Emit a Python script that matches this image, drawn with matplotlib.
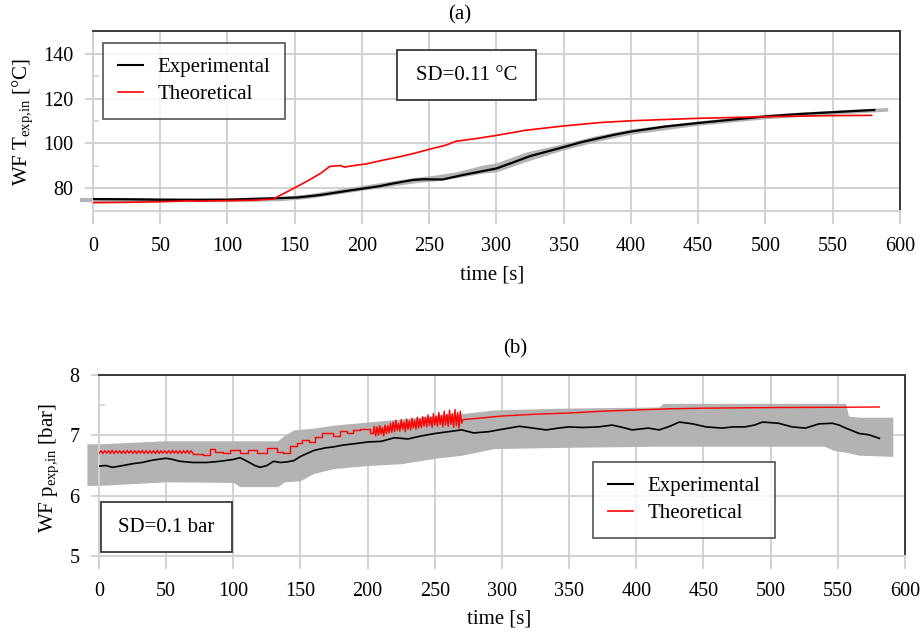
import matplotlib
matplotlib.use("Agg")
import matplotlib.pyplot as plt
from matplotlib.lines import Line2D
from matplotlib.patches import Rectangle

plt.rcParams['font.family'] = ['Liberation Serif', 'DejaVu Serif']
plt.rcParams['mathtext.fontset'] = 'custom'
plt.rcParams['mathtext.rm'] = 'Liberation Serif'
plt.rcParams['mathtext.it'] = 'Liberation Serif:italic'

# ---------------- data: panel (a) temperature ----------------
t_exp_a = [0, 25, 50, 75, 100, 131, 152, 169, 193, 213, 221, 238, 246, 260, 275, 300, 312,
           325, 350, 362, 375, 387, 400, 425, 450, 475, 500, 525, 550, 565, 581]
T_exp_a = [75.3, 75.2, 75.0, 74.9, 75.0, 75.6, 76.0, 77.1, 79.3, 81.0, 82.0, 83.8, 84.1, 84.0,
           86.0, 88.9, 91.5, 94.4, 98.4, 100.4, 102.2, 103.8, 105.3, 107.5, 109.1, 110.6, 112.0,
           113.1, 113.9, 114.4, 114.9]

t_th_a = [0, 20, 50, 70, 80, 100, 120, 134, 140, 150, 160, 170, 176, 184, 187, 195, 203, 215,
          228, 240, 250, 262, 266, 270, 285, 300, 322, 350, 377, 400, 450, 500, 550, 579]
T_th_a = [73.7, 73.8, 74.1, 74.5, 74.4, 74.6, 74.8, 75.3, 77.2, 80.3, 83.5, 87.0, 89.8, 90.2,
          89.5, 90.3, 90.9, 92.5, 94.1, 95.8, 97.4, 99.2, 100.1, 101.0, 102.2, 103.6, 105.9,
          107.8, 109.3, 110.1, 111.2, 111.9, 112.4, 112.5]

t_band_a = [-10, 0, 100, 140, 160, 200, 240, 255, 270, 290, 300, 322, 350, 375, 400, 450, 500, 550, 591]
upper_a = [76.0, 76.0, 75.9, 76.4, 77.6, 81.4, 85.0, 86.0, 87.4, 90.4, 91.4, 96.2, 100.0, 103.6,
           106.5, 110.1, 113.0, 114.8, 116.0]
lower_a = [74.2, 74.2, 74.1, 74.6, 75.6, 79.2, 82.6, 83.4, 84.8, 86.8, 87.4, 92.0, 97.2, 101.0,
           104.1, 108.1, 111.0, 113.0, 114.4]

# ---------------- data: panel (b) pressure ----------------
t_exp_b = [0, 5, 10, 18, 25, 32, 40, 50, 55, 60, 70, 80, 90, 100, 105, 112, 116, 120, 125, 130,
           135, 140, 145, 150, 155, 160, 168, 175, 182, 190, 200, 210, 220, 230, 240, 250, 260,
           270, 279, 290, 300, 313, 323, 333, 342, 350, 360, 372, 382, 390, 397, 409, 417, 425,
           432, 442, 452, 464, 472, 481, 488, 494, 506, 516, 526, 536, 546, 551, 556, 566, 573, 581]
p_exp_b = [6.49, 6.50, 6.47, 6.50, 6.53, 6.55, 6.59, 6.62, 6.60, 6.57, 6.55, 6.55, 6.57, 6.60,
           6.63, 6.55, 6.50, 6.47, 6.50, 6.57, 6.55, 6.56, 6.58, 6.65, 6.70, 6.75, 6.79, 6.81,
           6.84, 6.86, 6.89, 6.90, 6.96, 6.94, 6.99, 7.03, 7.06, 7.09, 7.04, 7.06, 7.10, 7.15,
           7.12, 7.09, 7.12, 7.14, 7.13, 7.14, 7.17, 7.13, 7.09, 7.12, 7.09, 7.15, 7.22, 7.19,
           7.14, 7.12, 7.14, 7.14, 7.17, 7.22, 7.20, 7.14, 7.12, 7.19, 7.20, 7.17, 7.12, 7.03,
           7.01, 6.95]

t_band_b = [-9, 0, 50, 100, 105, 133, 138, 145, 150, 160, 175, 200, 225, 250, 270, 294, 343,
            417, 420, 540, 547, 556, 558, 566, 581, 591]
upper_b = [6.86, 6.86, 6.91, 6.91, 6.91, 6.91, 7.00, 7.09, 7.10, 7.12, 7.17, 7.22, 7.27, 7.33,
           7.36, 7.42, 7.45, 7.47, 7.53, 7.53, 7.53, 7.53, 7.32, 7.30, 7.30, 7.30]
lower_b = [6.17, 6.17, 6.23, 6.22, 6.15, 6.15, 6.23, 6.24, 6.25, 6.37, 6.45, 6.50, 6.53, 6.62,
           6.67, 6.78, 6.80, 6.82, 6.82, 6.82, 6.75, 6.72, 6.71, 6.67, 6.66, 6.65]

# theoretical pressure: oscillating start, stepped middle, oscillating then smooth end
t_th_b1 = [0.0, 1.4, 2.8, 4.2, 5.6, 7.0, 8.4, 9.8, 11.2, 12.6, 14.0, 15.4, 16.8, 18.2, 19.6,
           21.0, 22.4, 23.8, 25.2, 26.6, 28.0, 29.4, 30.8, 32.2, 33.6, 35.0, 36.4, 37.8, 39.2,
           40.6, 42.0, 43.4, 44.8, 46.2, 47.6, 49.0, 50.4, 51.8, 53.2, 54.6, 56.0, 57.4, 58.8,
           60.2, 61.6, 63.0, 64.4, 65.8, 67.2, 68.6, 70.0]
p_th_b1 = [6.70, 6.745, 6.70, 6.745, 6.705, 6.745, 6.70, 6.75, 6.70, 6.745, 6.705, 6.745, 6.70,
           6.745, 6.70, 6.75, 6.705, 6.745, 6.70, 6.745, 6.70, 6.745, 6.705, 6.75, 6.70, 6.745,
           6.70, 6.745, 6.705, 6.745, 6.70, 6.75, 6.70, 6.745, 6.705, 6.745, 6.70, 6.745, 6.70,
           6.75, 6.705, 6.745, 6.70, 6.745, 6.70, 6.745, 6.705, 6.75, 6.70, 6.745, 6.70]

t_th_b2 = [70.0, 77.7, 82.7, 86.4, 92.6, 97.5, 105.0, 111.2, 117.4, 124.9, 132.3, 137.3, 142.2,
           147.2, 151.0, 156.0, 161.0, 166.0, 174.5, 179.5, 184.4, 189.4, 194.3, 201.8, 204.0]
p_th_b2 = [6.69, 6.67, 6.78, 6.73, 6.70, 6.765, 6.71, 6.765, 6.70, 6.79, 6.73, 6.71, 6.82,
           6.87, 6.93, 6.89, 6.98, 7.04, 6.99, 7.08, 7.04, 7.09, 7.11, 7.04, 7.04]

t_th_b3 = [204, 205, 206, 207, 208, 209, 210, 211, 212, 213, 214, 215, 216, 217, 218, 219, 220,
           221, 222, 223, 224, 225, 226, 227, 228, 229, 230, 231, 232, 233, 234, 235, 236, 237,
           238, 239, 240, 241, 242, 243, 244, 245, 246, 247, 248, 249, 250, 251, 252, 253, 254,
           255, 256, 257, 258, 259, 260, 261, 262, 263, 264, 265, 266, 267, 268, 269, 270, 271,
           281, 300, 325, 350, 375, 400, 425, 450, 500, 550, 581]
p_th_b3 = [7.03, 7.15, 6.99, 7.14, 7.00, 7.16, 7.02, 7.13, 6.99, 7.17, 7.03, 7.16, 7.04, 7.20,
           7.05, 7.22, 7.06, 7.25, 7.08, 7.20, 7.07, 7.26, 7.10, 7.22, 7.06, 7.27, 7.10, 7.24,
           7.09, 7.28, 7.12, 7.25, 7.10, 7.30, 7.12, 7.27, 7.13, 7.31, 7.15, 7.30, 7.14, 7.34,
           7.16, 7.30, 7.13, 7.36, 7.17, 7.32, 7.15, 7.38, 7.18, 7.33, 7.14, 7.40, 7.17, 7.35,
           7.15, 7.42, 7.18, 7.36, 7.13, 7.43, 7.16, 7.38, 7.12, 7.40, 7.20, 7.26, 7.28, 7.32,
           7.35, 7.37, 7.40, 7.42, 7.44, 7.45, 7.46, 7.465, 7.47]

x_ticks = [0, 50, 100, 150, 200, 250, 300, 350, 400, 450, 500, 550, 600]
labels = ["Experimental", "Theoretical"]

# ---------------- styling ----------------
GRID = '#d2d2d2'
BAND = '#b3b3b3'
DARK = '#3a3a3a'
FS = 15
TFS = 14.5

fig = plt.figure(figsize=(9.21, 6.33), dpi=100)
ax1 = fig.add_axes([0.101, 0.6667, 0.876, 0.2843])
ax2 = fig.add_axes([0.1075, 0.1216, 0.875, 0.2860])


def style(ax, ylim, yticks, yminor):
    ax.set_xlim(0, 600)
    ax.set_ylim(*ylim)
    ax.set_xticks(x_ticks)
    ax.set_yticks(yticks)
    ax.set_yticks(yminor, minor=True)
    ax.grid(True, which='major', color=GRID, linewidth=1.4)
    ax.set_axisbelow(True)
    ax.tick_params(axis='x', direction='out', length=9.4, width=1.4, color=GRID,
                   pad=9.5, labelsize=TFS)
    ax.tick_params(axis='y', which='major', direction='out', length=6, width=1.4,
                   color=GRID, pad=8, labelsize=TFS)
    ax.tick_params(axis='y', which='minor', direction='in', length=4, width=1.2, color=GRID)
    ax.tick_params(axis='x', which='minor', bottom=False)
    for s in ('left', 'bottom'):
        ax.spines[s].set_color(GRID)
        ax.spines[s].set_linewidth(1.4)
    for s in ('top', 'right'):
        ax.spines[s].set_color(DARK)
        ax.spines[s].set_linewidth(1.4)


style(ax1, (70, 150), [80, 100, 120, 140], [90, 110, 130])
style(ax2, (5, 8), [5, 6, 7, 8], [5.5, 6.5, 7.5])

# panel (a)
ax1.fill_between(t_band_a, lower_a, upper_a, color=BAND, linewidth=0, clip_on=False, zorder=2)
ax1.plot(t_exp_a, T_exp_a, color='black', linewidth=1.6, zorder=4)
ax1.plot(t_th_a, T_th_a, color='#ff0000', linewidth=1.2, zorder=5)

# panel (b)
ax2.fill_between(t_band_b, lower_b, upper_b, color=BAND, linewidth=0, clip_on=False, zorder=2)
ax2.plot(t_exp_b, p_exp_b, color='black', linewidth=1.2, zorder=4)
ax2.plot(t_th_b1, p_th_b1, color='#ff0000', linewidth=1.0, zorder=5)
ax2.plot(t_th_b2, p_th_b2, color='#ff0000', linewidth=1.0, drawstyle='steps-post', zorder=5)
ax2.plot(t_th_b3, p_th_b3, color='#ff0000', linewidth=1.0, zorder=5)

handles = [Line2D([], [], color='black', linewidth=1.5),
           Line2D([], [], color='#ff0000', linewidth=1.2)]
for ax, anchor in ((ax1, (0.0124, 0.933)), (ax2, (0.613, 0.519))):
    leg = ax.legend(handles, labels, loc='upper left', bbox_to_anchor=anchor,
                    borderaxespad=0, fontsize=FS, frameon=True, fancybox=False,
                    borderpad=0.7, handlelength=1.2, handletextpad=0.7, labelspacing=0.35)
    leg.get_frame().set_edgecolor(DARK)
    leg.get_frame().set_linewidth(1.3)
    leg.set_zorder(10)

# SD boxes
for ax, (x0, y0, w, h), txt in ((ax1, (0.377, 0.617, 0.172, 0.277), "SD=0.11 °C"),
                                (ax2, (0.002, 0.022, 0.163, 0.276), "SD=0.1 bar")):
    ax.add_patch(Rectangle((x0, y0), w, h, transform=ax.transAxes, facecolor='white',
                           edgecolor=DARK, linewidth=1.3, zorder=10))
    ax.text(x0 + w / 2, y0 + h / 2, txt, transform=ax.transAxes, ha='center', va='center',
            fontsize=FS, zorder=11)

# titles and labels
fig.text(0.4995, 0.976, "(a)", ha='center', va='center', fontsize=FS)
fig.text(0.559, 0.449, "(b)", ha='center', va='center', fontsize=FS)
fig.text(0.534, 0.5656, "time [s]", ha='center', va='center', fontsize=FS)
fig.text(0.542, 0.0221, "time [s]", ha='center', va='center', fontsize=FS)
fig.text(0.0245, 0.807, r"WF T$_{\mathrm{exp{,}in}}$ [°C]", ha='center', va='center',
         rotation=90, fontsize=FS)
fig.text(0.054, 0.2607, r"WF p$_{\mathrm{exp{,}in}}$ [bar]", ha='center', va='center',
         rotation=90, fontsize=FS)

fig.savefig("out.png", dpi=100)
